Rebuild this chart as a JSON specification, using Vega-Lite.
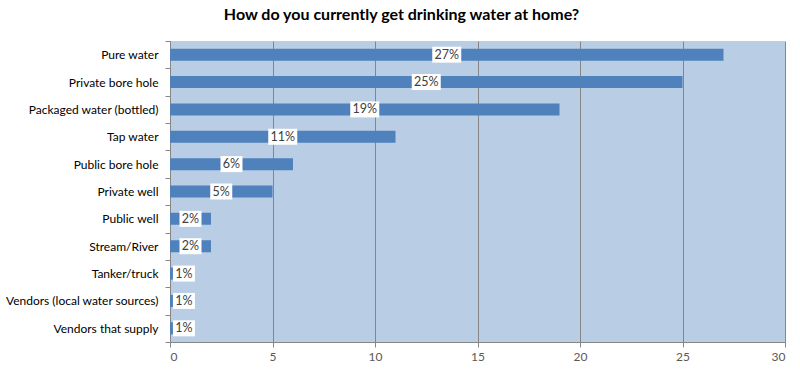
{
  "$schema": "https://vega.github.io/schema/vega-lite/v6.json",
  "width": 615,
  "height": 301,
  "autosize": {"type": "none"},
  "padding": {"left": 170, "top": 41, "right": 15, "bottom": 29},
  "background": "white",
  "title": {
    "text": "How do you currently get drinking water at home?",
    "font": "Lato",
    "fontSize": 16,
    "fontWeight": "bold",
    "color": "#000000",
    "anchor": "middle",
    "dx": -76,
    "offset": 12
  },
  "config": {
    "view": {"fill": "#B9CDE5", "stroke": null},
    "font": "Lato"
  },
  "data": {
    "values": [
      {"source": "Pure water", "value": 27, "label": "27%"},
      {"source": "Private bore hole", "value": 25, "label": "25%"},
      {"source": "Packaged water (bottled)", "value": 19, "label": "19%"},
      {"source": "Tap water", "value": 11, "label": "11%"},
      {"source": "Public bore hole", "value": 6, "label": "6%"},
      {"source": "Private well", "value": 5, "label": "5%"},
      {"source": "Public well", "value": 2, "label": "2%"},
      {"source": "Stream/River", "value": 2, "label": "2%"},
      {"source": "Tanker/truck", "value": 0.17, "label": "1%"},
      {"source": "Vendors (local water sources)", "value": 0.17, "label": "1%"},
      {"source": "Vendors that supply", "value": 0.17, "label": "1%"}
    ]
  },
  "transform": [
    {"calculate": "max(datum.value / 2, 0.68)", "as": "pos"},
    {"calculate": "(length(datum.label) == 3 ? 14.5 : 11) / 20.5", "as": "hw"},
    {"calculate": "datum.pos - datum.hw", "as": "lo"},
    {"calculate": "datum.pos + datum.hw", "as": "hi"}
  ],
  "encoding": {
    "y": {
      "field": "source",
      "type": "nominal",
      "sort": null,
      "scale": {"paddingInner": 0, "paddingOuter": 0},
      "axis": {
        "title": null,
        "labelFont": "Lato",
        "labelFontSize": 12,
        "labelColor": "#000000",
        "labelPadding": 7,
        "tickBand": "extent",
        "tickSize": 5,
        "tickColor": "#868686",
        "domainColor": "#868686"
      }
    }
  },
  "layer": [
    {
      "mark": {"type": "bar", "size": 12, "color": "#4F81BD"},
      "encoding": {
        "x": {
          "field": "value",
          "type": "quantitative",
          "scale": {"domain": [0, 30], "nice": false},
          "axis": {
            "title": null,
            "values": [0, 5, 10, 15, 20, 25, 30],
            "grid": true,
            "gridColor": "#868686",
            "gridOpacity": 1,
            "tickColor": "#868686",
            "tickSize": 5,
            "domainColor": "#868686",
            "labelColor": "#595959",
            "labelFont": "Lato",
            "labelFontSize": 12,
            "labelPadding": 4
          }
        }
      }
    },
    {
      "mark": {"type": "bar", "size": 16, "color": "#FFFFFF"},
      "encoding": {
        "x": {"field": "lo", "type": "quantitative"},
        "x2": {"field": "hi"}
      }
    },
    {
      "mark": {"type": "text", "font": "Lato", "fontSize": 12.5, "color": "#404040", "baseline": "middle", "align": "center"},
      "encoding": {
        "x": {"field": "pos", "type": "quantitative"},
        "text": {"field": "label"}
      }
    }
  ]
}
